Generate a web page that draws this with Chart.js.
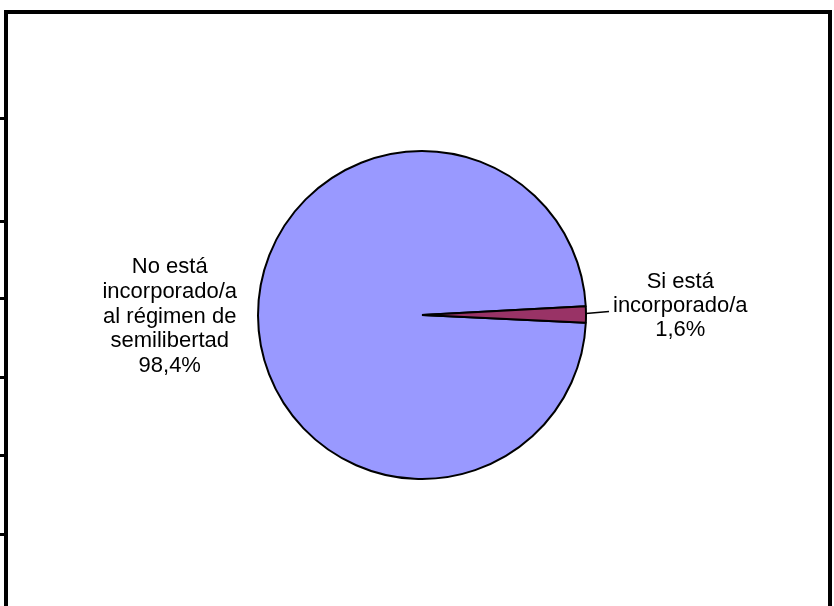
<!DOCTYPE html>
<html>
<head>
<meta charset="utf-8">
<title>Régimen de semilibertad</title>
<script src="https://cdn.jsdelivr.net/npm/chart.js@4/dist/chart.umd.min.js"></script>
<style>
	html, body { margin: 0; padding: 0; background: #ffffff; }
	#wrap { position: relative; width: 834px; height: 606px; }
</style>
</head>
<body>
<div id="wrap"><canvas id="pieChart"></canvas></div>
<script>
// 数据
const categories = ['No está incorporado/a al régimen de semilibertad', 'Si está incorporado/a'];
const percentValues = [98.4, 1.6];
const labelLines = [
	['No está', 'incorporado/a', 'al régimen de', 'semilibertad'],
	['Si está', 'incorporado/a']
];
const sliceColors = ['#9999FF', '#993366'];

// 百分比格式 (逗号小数)
function formatPercent(v) {
	return v.toFixed(1).replace('.', ',') + '%';
}

// 外框 + 左侧刻度
const framePlugin = {
	id: 'frame',
	beforeDraw(chart) {
		const ctx = chart.ctx;
		ctx.save();
		ctx.fillStyle = '#ffffff';
		ctx.fillRect(0, 0, chart.width, chart.height);
		ctx.fillStyle = '#000000';
		ctx.fillRect(4, 10, 4, chart.height - 10);
		ctx.fillRect(4, 10, 828, 4);
		ctx.fillRect(828, 10, 4, chart.height - 10);
		[117, 220, 297, 376, 454, 533].forEach(y => ctx.fillRect(0, y, 6, 3));
		ctx.restore();
	}
};

// 扇区标签
const sliceLabelPlugin = {
	id: 'sliceLabels',
	afterDatasetsDraw(chart, args, opts) {
		const ctx = chart.ctx;
		const meta = chart.getDatasetMeta(0);
		ctx.save();
		ctx.font = opts.font;
		ctx.fillStyle = '#000000';
		ctx.textAlign = 'center';
		ctx.textBaseline = 'middle';
		meta.data.forEach((arc, i) => {
			const p = arc.getProps(['x', 'y', 'startAngle', 'endAngle', 'outerRadius'], true);
			const mid = (p.startAngle + p.endAngle) / 2;
			const ex = p.x + Math.cos(mid) * p.outerRadius;
			const ey = p.y + Math.sin(mid) * p.outerRadius;
			const lines = labelLines[i].concat([formatPercent(percentValues[i])]);
			const w = Math.max(...lines.map(t => ctx.measureText(t).width));
			const place = opts.placement[i];
			const right = Math.cos(mid) >= 0;
			const cx = right ? ex + place.gap + w / 2 : ex - place.gap - w / 2;
			const cy = ey + place.dy;
			if (place.leader) {
				ctx.strokeStyle = '#000000';
				ctx.lineWidth = 1.5;
				ctx.beginPath();
				ctx.moveTo(ex, ey - 1);
				ctx.lineTo(ex + (right ? place.leader : -place.leader), ey - 3);
				ctx.stroke();
			}
			const lh = place.lineHeight;
			const top = cy - (lines.length - 1) * lh / 2;
			lines.forEach((t, k) => ctx.fillText(t, cx, top + k * lh));
		});
		ctx.restore();
	}
};

const ctx = document.getElementById('pieChart').getContext('2d');
const pieChart = new Chart(ctx, {
	type: 'pie',
	data: {
		labels: categories,
		datasets: [{
			data: percentValues,
			backgroundColor: sliceColors,
			borderColor: '#000000',
			borderWidth: 2
		}]
	},
	options: {
		responsive: true,
		maintainAspectRatio: false,
		animation: false,
		rotation: 92.7,
		layout: { padding: { left: 257, right: 247, top: 150, bottom: 126 } },
		plugins: {
			legend: { display: false },
			tooltip: { enabled: false },
			sliceLabels: {
				font: '22px "Liberation Sans", Arial, sans-serif',
				placement: [
					{ gap: 21, dy: 1, leader: 0, lineHeight: 24.6 },
					{ gap: 27, dy: -9, leader: 23, lineHeight: 24 }
				]
			}
		}
	},
	plugins: [framePlugin, sliceLabelPlugin]
});
</script>
</body>
</html>
